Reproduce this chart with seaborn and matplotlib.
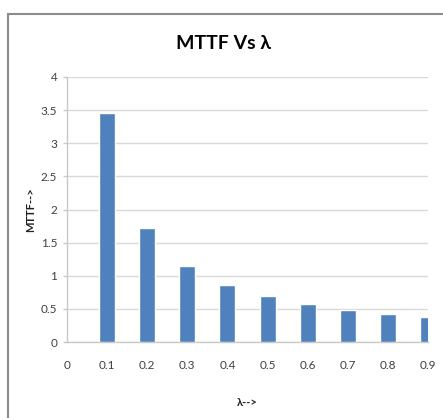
"""
MTTF vs lambda bar chart (Excel style)
"""
import matplotlib
matplotlib.use('Agg')
import matplotlib.pyplot as plt
from matplotlib.patches import Rectangle
import seaborn as sns
import pandas as pd

# Data
lam = [0.1, 0.2, 0.3, 0.4, 0.5, 0.6, 0.7, 0.8, 0.9]
mttf = [3.45, 1.72, 1.15, 0.86, 0.69, 0.575, 0.49, 0.43, 0.38]
x_ticks = [0, 0.1, 0.2, 0.3, 0.4, 0.5, 0.6, 0.7, 0.8, 0.9]
x_tick_labels = ['0', '0.1', '0.2', '0.3', '0.4', '0.5', '0.6', '0.7', '0.8', '0.9']
y_ticks = [0, 0.5, 1, 1.5, 2, 2.5, 3, 3.5, 4]
y_tick_labels = ['0', '0.5', '1', '1.5', '2', '2.5', '3', '3.5', '4']

sns.set_style("white")
plt.rcParams['font.family'] = ['Lato', 'Liberation Sans', 'DejaVu Sans']

df = pd.DataFrame({'lambda': lam, 'MTTF': mttf})

fig = plt.figure(figsize=(4.43, 4.18), dpi=100)
ax = fig.add_axes([0.1512, 0.1818, 0.8149, 0.634])

sns.barplot(data=df, x='lambda', y='MTTF', native_scale=True, width=0.4,
            color='#4F81BD', saturation=1, ax=ax, zorder=3)

ax.set_xlim(0, 0.9)
ax.set_ylim(0, 4)
ax.set_xticks(x_ticks)
ax.set_xticklabels(x_tick_labels)
ax.set_yticks(y_ticks)
ax.set_yticklabels(y_tick_labels)

ax.yaxis.grid(True, color='#D9D9D9', lw=1, zorder=0)
ax.xaxis.grid(False)
ax.set_axisbelow(True)

for side in ['top', 'right']:
    ax.spines[side].set_visible(False)
for side in ['left', 'bottom']:
    ax.spines[side].set_color('#C8C8C8')
    ax.spines[side].set_linewidth(1)

ax.tick_params(axis='y', length=3, width=1, color='#C8C8C8', pad=4,
               labelsize=8.5, labelcolor='#404040', left=True)
ax.tick_params(axis='x', length=0, pad=13, labelsize=8.5, labelcolor='#404040')

ax.set_xlabel('λ-->', fontsize=8, fontweight='bold', color='#202020')
ax.set_ylabel('MTTF-->', fontsize=8, fontweight='bold', color='#202020')
ax.xaxis.set_label_coords(0.5, -0.2075)
ax.yaxis.set_label_coords(-0.085, 0.5)

fig.text(0.505, 0.897, 'MTTF Vs λ', ha='center', va='center',
         fontsize=14, fontweight='bold', color='black')

# Chart area frame (cut at right and bottom in the original)
frame = Rectangle((7.5 / 443, -0.2), 1.2, 0.2 + (1 - 13.5 / 418),
                  transform=fig.transFigure, fill=False,
                  edgecolor='#8C8C8C', lw=1.5, clip_on=False)
fig.patches.append(frame)

plt.savefig('out.png', dpi=100)
plt.close()
